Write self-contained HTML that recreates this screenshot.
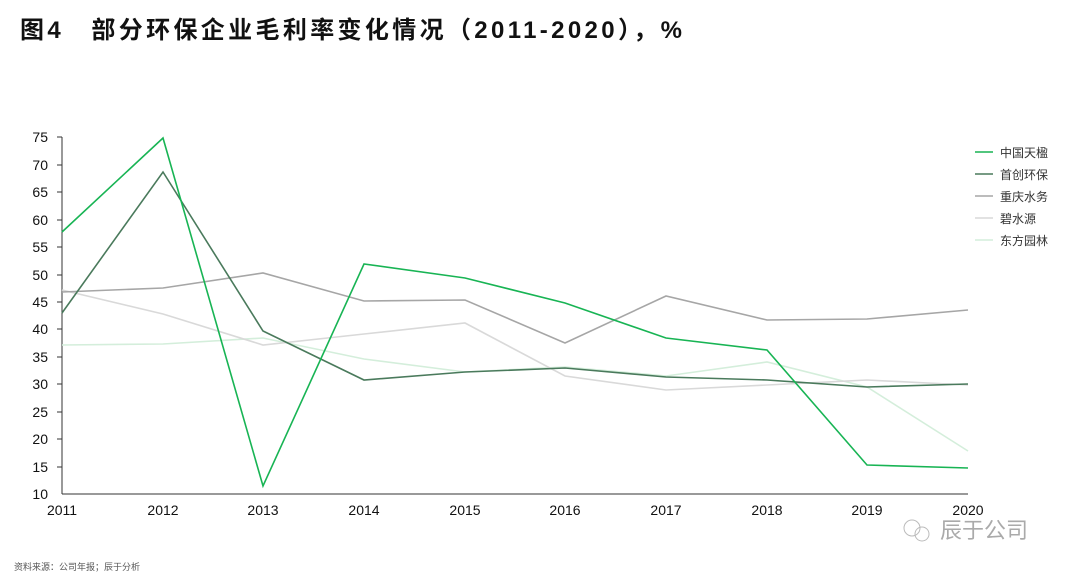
<!DOCTYPE html>
<html><head><meta charset="utf-8"><style>
body{margin:0;background:#fff;width:1080px;height:577px;overflow:hidden;font-family:"Liberation Sans","Noto Sans CJK SC",sans-serif}
</style></head><body>
<svg width="1080" height="577" xmlns="http://www.w3.org/2000/svg" font-family="Liberation Sans, Noto Sans CJK SC, sans-serif">
<text x="20" y="38" font-size="24" font-weight="bold" fill="#111" textLength="662" lengthAdjust="spacing" font-family="Liberation Sans, Noto Sans CJK SC, sans-serif">图4　部分环保企业毛利率变化情况（2011-2020），%</text>
<g font-size="14" fill="#111" text-anchor="end">
<text x="48" y="142">75</text><text x="48" y="170">70</text><text x="48" y="197">65</text><text x="48" y="225">60</text><text x="48" y="252">55</text><text x="48" y="280">50</text><text x="48" y="307">45</text><text x="48" y="334">40</text><text x="48" y="362">35</text><text x="48" y="389">30</text><text x="48" y="417">25</text><text x="48" y="444">20</text><text x="48" y="472">15</text><text x="48" y="499">10</text>
</g>
<g stroke="#333" stroke-width="1"><line x1="62" y1="137" x2="62" y2="494"/><line x1="62" y1="494" x2="968" y2="494"/>
<line x1="57" y1="137" x2="62" y2="137"/><line x1="57" y1="165" x2="62" y2="165"/><line x1="57" y1="192" x2="62" y2="192"/><line x1="57" y1="220" x2="62" y2="220"/><line x1="57" y1="247" x2="62" y2="247"/><line x1="57" y1="275" x2="62" y2="275"/><line x1="57" y1="302" x2="62" y2="302"/><line x1="57" y1="329" x2="62" y2="329"/><line x1="57" y1="357" x2="62" y2="357"/><line x1="57" y1="384" x2="62" y2="384"/><line x1="57" y1="412" x2="62" y2="412"/><line x1="57" y1="439" x2="62" y2="439"/><line x1="57" y1="467" x2="62" y2="467"/></g>
<g font-size="14" fill="#111" text-anchor="middle">
<text x="62" y="515">2011</text><text x="163" y="515">2012</text><text x="263" y="515">2013</text><text x="364" y="515">2014</text><text x="465" y="515">2015</text><text x="565" y="515">2016</text><text x="666" y="515">2017</text><text x="767" y="515">2018</text><text x="867" y="515">2019</text><text x="968" y="515">2020</text>
</g>
<g fill="none" stroke-width="1.6">
<polyline stroke="#d4eedb" points="62,345 163,344 263,338 364,359 465,372 565,367 666,376 767,362 867,387 968,451"/>
<polyline stroke="#d9d9d9" points="62,290 163,314 263,345 364,334 465,323 565,376 666,390 767,385 867,380 968,385"/>
<polyline stroke="#a6a6a6" points="62,292 163,288 263,273 364,301 465,300 565,343 666,296 767,320 867,319 968,310"/>
<polyline stroke="#4a7a5c" points="62,313 163,172 263,331 364,380 465,372 565,368 666,377 767,380 867,387 968,384"/>
<polyline stroke="#18b454" points="62,232 163,138 263,486 364,264 465,278 565,303 666,338 767,350 867,465 968,468"/>
</g>
<g font-size="12" fill="#333">
<line x1="975" y1="152" x2="993" y2="152" stroke="#18b454" stroke-width="1.6"/><text x="1000" y="157">中国天楹</text>
<line x1="975" y1="174" x2="993" y2="174" stroke="#4a7a5c" stroke-width="1.6"/><text x="1000" y="179">首创环保</text>
<line x1="975" y1="196" x2="993" y2="196" stroke="#a6a6a6" stroke-width="1.6"/><text x="1000" y="201">重庆水务</text>
<line x1="975" y1="218" x2="993" y2="218" stroke="#d9d9d9" stroke-width="1.6"/><text x="1000" y="223">碧水源</text>
<line x1="975" y1="240" x2="993" y2="240" stroke="#d4eedb" stroke-width="1.6"/><text x="1000" y="245">东方园林</text>
</g>
<text x="940" y="538" font-size="22" fill="#aaa">辰于公司</text>
<circle cx="912" cy="528" r="8" fill="none" stroke="#bbb"/><circle cx="922" cy="534" r="7" fill="none" stroke="#bbb"/>
<text x="14" y="570" font-size="9" fill="#555">资料来源：公司年报；辰于分析</text>
</svg>
</body></html>
